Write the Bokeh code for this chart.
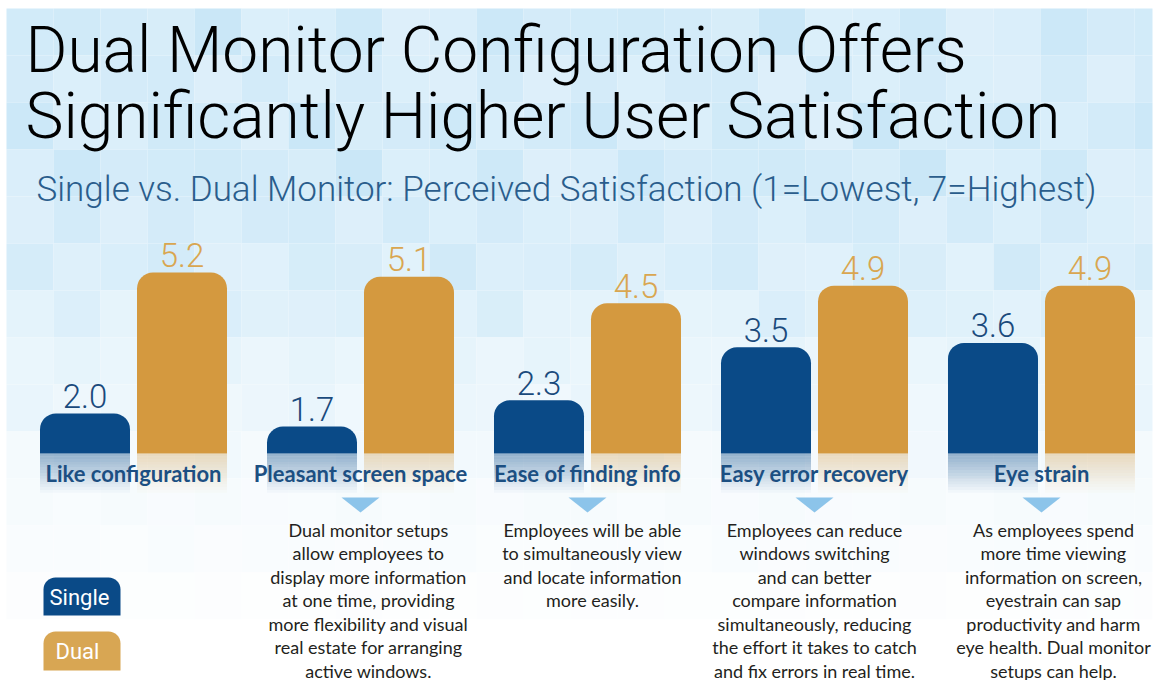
from bokeh.plotting import figure
from bokeh.models import Range1d, ColumnDataSource
from bokeh.core.properties import value
from bokeh.embed import file_html
from bokeh.resources import INLINE

# ---------------- data ----------------
categories = ["Like configuration", "Pleasant screen space", "Ease of finding info",
              "Easy error recovery", "Eye strain"]
single = [2.0, 1.7, 2.3, 3.5, 3.6]
dual = [5.2, 5.1, 4.5, 4.9, 4.9]
series = ["Single", "Dual"]
descriptions = [
    [],
    ["Dual monitor setups", "allow employees to", "display more information",
     "at one time, providing", "more flexibility and visual",
     "real estate for arranging", "active windows."],
    ["Employees will be able", "to simultaneously view", "and locate information",
     "more easily."],
    ["Employees can reduce", "windows switching", "and can better",
     "compare information", "simultaneously, reducing",
     "the effort it takes to catch", "and fix errors in real time."],
    ["As employees spend", "more time viewing", "information on screen,",
     "eyestrain can sap", "productivity and harm", "eye health. Dual monitor",
     "setups can help."],
]
title_lines = ["Dual Monitor Configuration Offers", "Significantly Higher User Satisfaction"]
subtitle = "Single vs. Dual Monitor: Perceived Satisfaction (1=Lowest, 7=Highest)"

# ---------------- layout ----------------
W, H = 1160, 680
Y0, K = 501.0, 44.05      # pixel y of value 0, pixels per unit


def Y(s):
    return (Y0 - s) / K


SINGLE_C = "#0a4a87"
DUAL_C = "#d4993f"
SINGLE_T = "#1a4a7c"
DUAL_T = "#d9a650"
LABEL_C = "#1c4f82"

p = figure(width=W, height=H, x_range=Range1d(0, W), y_range=Range1d(Y(H), Y(0)),
           output_backend="svg", toolbar_location=None, min_border=0,
           x_axis_location=None, y_axis_location=None, outline_line_color=None)
p.grid.visible = False
p.background_fill_color = "white"
p.border_fill_color = "white"

# ---------------- background mosaic ----------------
cell = 47
tints = [0, 9, -6, 5, 11, -2, 7, 2, -8, 8, 1, -4]
L, R, T, B, C = [], [], [], [], []
for j in range(14):
    for i in range(25):
        x0 = 6 + i * cell
        y0 = 8 + j * cell
        yc = y0 + cell / 2
        if yc < 220:
            t = 1.0
        elif yc < 460:
            t = 1.0 - 0.75 * (yc - 220) / 240
        else:
            t = max(0.0, 0.25 - 0.25 * (yc - 460) / 170)
        d = tints[(i * 5 + j * 7 + (i * j) % 3) % len(tints)]
        br, bg, bb = 210 + d, 235 + d * 0.45, 249 + d * 0.15
        r = 255 - (255 - br) * t
        g = 255 - (255 - bg) * t
        b = 255 - (255 - min(bb, 255)) * t
        L.append(x0)
        R.append(min(x0 + cell, 1152))
        T.append(Y(y0))
        B.append(Y(y0 + cell))
        C.append("#%02x%02x%02x" % (int(min(255, r)), int(min(255, g)), int(min(255, b))))
p.quad(left=L, right=R, top=T, bottom=B, fill_color=C, line_color=None)

# ---------------- bars ----------------
gc = [133 + 227 * i for i in range(len(categories))]
bw = 90
sx = [c - 48.5 for c in gc]
dx = [c + 48.5 for c in gc]
base = Y(453)

src = ColumnDataSource(dict(sx=sx, dx=dx, single=single, dual=dual,
                            slab=["%.1f" % v for v in single],
                            dlab=["%.1f" % v for v in dual]))
p.vbar(x="sx", width=bw, bottom=base, top="single", source=src, fill_color=SINGLE_C,
       line_color=None, border_radius=(16, 16, 0, 0))
p.vbar(x="dx", width=bw, bottom=base, top="dual", source=src, fill_color=DUAL_C,
       line_color=None, border_radius=(16, 16, 0, 0))

# reflections fading below bars
n = 14
for k in range(n):
    s0 = 453 + k * 2.8
    a = 0.40 * (1 - k / n)
    p.vbar(x=sx, width=bw, top=Y(s0), bottom=Y(s0 + 2.8), fill_color=SINGLE_C,
           fill_alpha=a, line_color=None)
    p.vbar(x=dx, width=bw, top=Y(s0), bottom=Y(s0 + 2.8), fill_color=DUAL_C,
           fill_alpha=a * 0.8, line_color=None)

# value labels
off = 17.5 / K
p.text(x=sx, y=[v + off for v in single], text=src.data["slab"], text_align="center",
       text_baseline="middle", text_font=value("Roboto Light"), text_font_size="33px",
       text_color=SINGLE_T)
p.text(x=dx, y=[v + off for v in dual], text=src.data["dlab"], text_align="center",
       text_baseline="middle", text_font=value("Roboto Light"), text_font_size="33px",
       text_color=DUAL_T)

# category labels
p.text(x=gc, y=[Y(472.5)] * len(gc), text=categories, text_align="center",
       text_baseline="middle", text_font=value("Lato"), text_font_style="bold",
       text_font_size="22px", text_color=LABEL_C)

# triangles and descriptions
desc_x = [133, 368, 592, 814, 1053]
tx, ty = [], []
for i, lines in enumerate(descriptions):
    if not lines:
        continue
    c = gc[i]
    tx.append([c - 19, c + 19, c])
    ty.append([Y(497), Y(497), Y(512)])
    p.text(x=[desc_x[i]] * len(lines), y=[Y(529 + 23.5 * m) for m in range(len(lines))],
           text=lines, text_align="center", text_baseline="middle",
           text_font=value("Lato"), text_font_size="18px", text_color="#231f20")
p.patches(xs=tx, ys=ty, fill_color="#8cc4ea", line_color=None)

# legend
leg_top = [577, 631]
leg_bot = [615, 670]
leg_col = [SINGLE_C, "#d8a653"]
leg_tx = [49, 55]
for k, name in enumerate(series):
    p.quad(left=[43], right=[120], top=[Y(leg_top[k])], bottom=[Y(leg_bot[k])],
           fill_color=leg_col[k], line_color=None, border_radius=(12, 12, 0, 0))
    p.text(x=[leg_tx[k]], y=[Y((leg_top[k] + leg_bot[k]) / 2 + 0.5)], text=[name],
           text_align="left", text_baseline="middle", text_font=value("Roboto"),
           text_font_size="22px", text_color="white")

# titles
p.text(x=[25, 25], y=[Y(50), Y(116)], text=title_lines, text_align="left",
       text_baseline="middle", text_font=value("Roboto Light"), text_font_size="64px",
       text_color="black")
p.text(x=[36], y=[Y(189)], text=[subtitle], text_align="left", text_baseline="middle",
       text_font=value("Roboto Light"), text_font_size="35px", text_color="#2a5d8c")

open("out.html", "w").write(file_html(p, INLINE))
